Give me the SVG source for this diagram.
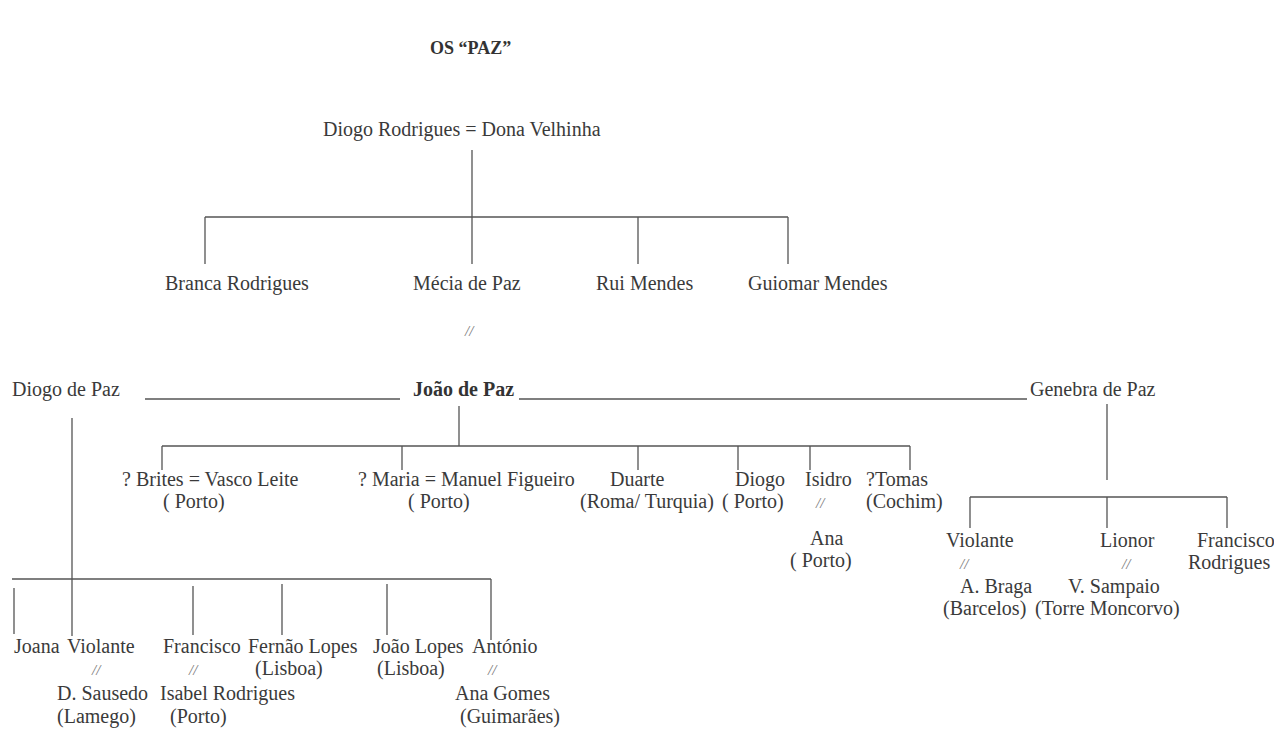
<svg xmlns="http://www.w3.org/2000/svg" width="1274" height="729" viewBox="0 0 1274 729">
<style>
text{font-family:"Liberation Serif","Times New Roman",serif;font-size:20px;fill:#3a3a3a}
.b{font-weight:bold;fill:#333}
.t{font-weight:bold;font-size:18px;fill:#333}
.m{font-size:15px;fill:#777;font-style:italic}
.ln{stroke:#555;stroke-width:1.3;fill:none}
</style>
<rect width="1274" height="729" fill="#fff"/>
<g id="connectors" class="ln">
<path d="M472 150V217M205 217H788M205 217V264M472 217V264M638 217V264M788 217V264"/>
<path d="M145 399H400M519 399H1027"/>
<path d="M459 406V446M162 446H910M162 446V470M402 446V470M638 446V470M738 446V470M810 446V470M910 446V470"/>
<path d="M1107 404V480M970 497H1227M970 497V528M1107 497V528M1227 497V528"/>
<path d="M72 418V636M12 579H491M14 588V634M193 586V635M282 584V635M387 584V635M491 579V640"/>
</g>
<g id="title"><text class="t" x="430" y="54">OS “PAZ”</text></g>
<g id="n-diogo-rodrigues"><text x="323" y="136">Diogo Rodrigues = Dona Velhinha</text></g>
<g id="n-branca"><text x="165" y="290">Branca Rodrigues</text></g>
<g id="n-mecia"><text x="413" y="290">Mécia de Paz</text><text class="m" x="465" y="336">//</text></g>
<g id="n-rui"><text x="596" y="290">Rui Mendes</text></g>
<g id="n-guiomar"><text x="748" y="290">Guiomar Mendes</text></g>
<g id="n-diogo-de-paz"><text x="12" y="396">Diogo de Paz</text></g>
<g id="n-joao"><text class="b" x="413" y="396">João de Paz</text></g>
<g id="n-genebra"><text x="1030" y="396">Genebra de Paz</text></g>
<g id="n-brites"><text x="122" y="486">? Brites = Vasco Leite</text><text x="163" y="508">( Porto)</text></g>
<g id="n-maria"><text x="358" y="486">? Maria = Manuel Figueiro</text><text x="408" y="508">( Porto)</text></g>
<g id="n-duarte"><text x="610" y="486">Duarte</text><text x="580" y="508">(Roma/ Turquia)</text></g>
<g id="n-diogo"><text x="735" y="486">Diogo</text><text x="722" y="508">( Porto)</text></g>
<g id="n-isidro"><text x="805" y="486">Isidro</text><text class="m" x="816" y="508">//</text><text x="810" y="545">Ana</text><text x="790" y="567">( Porto)</text></g>
<g id="n-tomas"><text x="866" y="486">?Tomas</text><text x="866" y="508">(Cochim)</text></g>
<g id="n-violante-g"><text x="946" y="547">Violante</text><text class="m" x="960" y="569">//</text><text x="960" y="593">A. Braga</text><text x="943" y="615">(Barcelos)</text></g>
<g id="n-lionor"><text x="1100" y="547">Lionor</text><text class="m" x="1122" y="569">//</text><text x="1068" y="593">V. Sampaio</text><text x="1035" y="615">(Torre Moncorvo)</text></g>
<g id="n-francisco-r"><text x="1197" y="547">Francisco</text><text x="1188" y="569">Rodrigues</text></g>
<g id="n-joana"><text x="14" y="653">Joana</text></g>
<g id="n-violante"><text x="67" y="653">Violante</text><text class="m" x="92" y="675">//</text><text x="57" y="700">D. Sausedo</text><text x="57" y="723">(Lamego)</text></g>
<g id="n-francisco"><text x="163" y="653">Francisco</text><text class="m" x="189" y="675">//</text><text x="160" y="700">Isabel Rodrigues</text><text x="170" y="723">(Porto)</text></g>
<g id="n-fernao"><text x="248" y="653">Fernão Lopes</text><text x="255" y="675">(Lisboa)</text></g>
<g id="n-joao-lopes"><text x="373" y="653">João Lopes</text><text x="377" y="675">(Lisboa)</text></g>
<g id="n-antonio"><text x="472" y="653">António</text><text class="m" x="488" y="675">//</text><text x="455" y="700">Ana Gomes</text><text x="460" y="723">(Guimarães)</text></g>
</svg>
